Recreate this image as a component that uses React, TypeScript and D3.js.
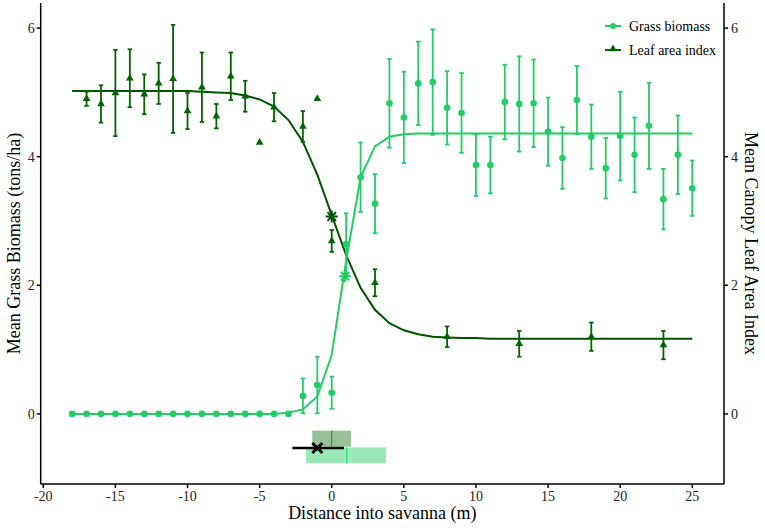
import * as React from 'react';
import * as d3 from 'd3';

// distance into savanna (m) for the fitted curves
const fitDist = [
  -18, -17, -16, -15, -14, -13, -12, -11, -10, -9, -8, -7, -6, -5, -4, -3, -2, -1, 0, 1, 2, 3,
  4, 5, 6, 7, 8, 9, 10, 11, 12, 13, 14, 15, 16, 17, 18, 19, 20, 21, 22, 23, 24, 25
];
const grassFit = [
  0, 0, 0, 0, 0, 0, 0, 0, 0, 0, 0, 0, 0, 0, 0, 0.02, 0.07, 0.27, 0.92, 2.38, 3.68, 4.16,
  4.31, 4.35, 4.36, 4.36, 4.36, 4.36, 4.36, 4.36, 4.36, 4.36, 4.36, 4.36, 4.36, 4.36, 4.36, 4.36, 4.36, 4.36, 4.36, 4.36, 4.36, 4.36
];
const leafFit = [
  5.02, 5.02, 5.02, 5.02, 5.02, 5.02, 5.02, 5.02, 5.02, 5.01, 5.0, 4.99, 4.95, 4.89, 4.78, 4.57, 4.23, 3.72, 3.09, 2.47, 1.96, 1.62,
  1.41, 1.3, 1.24, 1.2, 1.19, 1.18, 1.18, 1.17, 1.17, 1.17, 1.17, 1.17, 1.17, 1.17, 1.17, 1.17, 1.17, 1.17, 1.17, 1.17, 1.17, 1.17
];

// grass biomass observations
const grassDist = fitDist;
const grassMean = [
  0, 0, 0, 0, 0, 0, 0, 0, 0, 0, 0, 0, 0, 0, 0, 0, 0.28, 0.45, 0.33, 2.64, 3.68, 3.27,
  4.83, 4.61, 5.14, 5.16, 4.76, 4.68, 3.87, 3.87, 4.85, 4.82, 4.83, 4.39, 3.98, 4.88, 4.31, 3.82, 4.32, 4.03, 4.48, 3.34, 4.03, 3.51
];
const grassErr = [
  0, 0, 0, 0, 0, 0, 0, 0, 0, 0, 0, 0, 0, 0, 0, 0, 0.27, 0.44, 0.25, 0.48, 0.54, 0.46,
  0.69, 0.71, 0.65, 0.82, 0.57, 0.62, 0.48, 0.44, 0.58, 0.74, 0.68, 0.53, 0.48, 0.53, 0.5, 0.47, 0.69, 0.58, 0.67, 0.47, 0.61, 0.43
];

// leaf area index observations
const leafDist = [-17, -16, -15, -14, -13, -12, -11, -10, -9, -8, -7, -6, -5, -4, -2, -1, 0, 3, 8, 13, 18, 23];
const leafMean = [4.9, 4.82, 4.99, 5.22, 4.97, 5.14, 5.21, 4.71, 5.08, 4.63, 5.25, 4.94, 4.22, 4.77, 4.47, 4.9, 2.69, 2.04, 1.2, 1.09, 1.2, 1.07];
const leafErr = [0.11, 0.29, 0.67, 0.45, 0.31, 0.32, 0.84, 0.28, 0.54, 0.19, 0.37, 0.24, 0, 0.22, 0.24, 0, 0.17, 0.21, 0.16, 0.2, 0.22, 0.22];

// boundary estimates: [estimate, lower, upper]
const leafBoundary = [0, -1.35, 1.34];
const grassBoundary = [1.04, -1.78, 3.77];
const jointBoundary = [-1.0, -2.73, 0.85];
// curve midpoints: [distance, value]
const leafMid = [0, 3.07];
const grassMid = [0.92, 2.14];

const xTicks = [-20, -15, -10, -5, 0, 5, 10, 15, 20, 25];
const yTicks = [0, 2, 4, 6];

const GRASS = '#22cc66';
const LEAF = '#006400';
const FONT = '"Liberation Serif", "Times New Roman", serif';

function Asterisk({ cx, cy, r, color }: { cx: number; cy: number; r: number; color: string }) {
  const d = r * Math.SQRT1_2;
  return (
    <g stroke={color} strokeWidth={2}>
      <line x1={cx - r} y1={cy} x2={cx + r} y2={cy} />
      <line x1={cx} y1={cy - r} x2={cx} y2={cy + r} />
      <line x1={cx - d} y1={cy - d} x2={cx + d} y2={cy + d} />
      <line x1={cx - d} y1={cy + d} x2={cx + d} y2={cy - d} />
    </g>
  );
}

export default function App() {
  const width = 765, height = 528;
  const left = 40.7, right = 724, top = 3, bottom = 484;

  const x = d3.scaleLinear().domain([-20.18, 27.2]).range([left, right]);
  const y = d3.scaleLinear().domain([-1.09, 6.39]).range([bottom, top]);

  const line = d3.line<number>()
    .x((_, i) => x(fitDist[i]))
    .y(d => y(d));

  const tri = d3.symbol().type(d3.symbolTriangle).size(26)();
  const cap = 2.2;

  const bandLeaf = [-0.26, -0.51];
  const bandGrass = [-0.52, -0.77];
  const jointY = -0.53;

  return (
    <svg width={width} height={height} style={{ position: 'absolute', left: 0, top: 0, background: '#fff' }}
      fontFamily={FONT}>
      {/* boundary boxes */}
      <rect x={x(leafBoundary[1])} y={y(bandLeaf[0])} width={x(leafBoundary[2]) - x(leafBoundary[1])}
        height={y(bandLeaf[1]) - y(bandLeaf[0])} fill={LEAF} fillOpacity={0.4} />
      <line x1={x(leafBoundary[0])} x2={x(leafBoundary[0])} y1={y(bandLeaf[0])} y2={y(bandLeaf[1])}
        stroke={LEAF} strokeWidth={1} strokeOpacity={0.7} />
      <rect x={x(grassBoundary[1])} y={y(bandGrass[0])} width={x(grassBoundary[2]) - x(grassBoundary[1])}
        height={y(bandGrass[1]) - y(bandGrass[0])} fill={GRASS} fillOpacity={0.45} />
      <line x1={x(grassBoundary[0])} x2={x(grassBoundary[0])} y1={y(bandGrass[0])} y2={y(bandGrass[1])}
        stroke={GRASS} strokeWidth={1} />
      <line x1={x(jointBoundary[1])} x2={x(jointBoundary[2])} y1={y(jointY)} y2={y(jointY)}
        stroke="#000" strokeWidth={2.5} />
      <g stroke="#000" strokeWidth={2.8}>
        <line x1={x(jointBoundary[0]) - 5} y1={y(jointY) - 5} x2={x(jointBoundary[0]) + 5} y2={y(jointY) + 5} />
        <line x1={x(jointBoundary[0]) - 5} y1={y(jointY) + 5} x2={x(jointBoundary[0]) + 5} y2={y(jointY) - 5} />
      </g>

      {/* fitted curves */}
      <path d={line(leafFit) || ''} fill="none" stroke="#005200" strokeWidth={2} />
      <path d={line(grassFit) || ''} fill="none" stroke={GRASS} strokeWidth={2} />

      {/* grass observations */}
      <g stroke={GRASS} strokeWidth={1.8}>
        {grassDist.map((d, i) => grassErr[i] > 0 ? (
          <g key={i}>
            <line x1={x(d)} x2={x(d)} y1={y(grassMean[i] + grassErr[i])} y2={y(grassMean[i] - grassErr[i])} />
            <line x1={x(d) - cap} x2={x(d) + cap} y1={y(grassMean[i] + grassErr[i])} y2={y(grassMean[i] + grassErr[i])} />
            <line x1={x(d) - cap} x2={x(d) + cap} y1={y(grassMean[i] - grassErr[i])} y2={y(grassMean[i] - grassErr[i])} />
          </g>
        ) : null)}
      </g>
      {grassDist.map((d, i) => (
        <circle key={i} cx={x(d)} cy={y(grassMean[i])} r={3.3} fill={GRASS} />
      ))}

      {/* leaf area observations */}
      <g stroke={LEAF} strokeWidth={1.8}>
        {leafDist.map((d, i) => leafErr[i] > 0 ? (
          <g key={i}>
            <line x1={x(d)} x2={x(d)} y1={y(leafMean[i] + leafErr[i])} y2={y(leafMean[i] - leafErr[i])} />
            <line x1={x(d) - cap} x2={x(d) + cap} y1={y(leafMean[i] + leafErr[i])} y2={y(leafMean[i] + leafErr[i])} />
            <line x1={x(d) - cap} x2={x(d) + cap} y1={y(leafMean[i] - leafErr[i])} y2={y(leafMean[i] - leafErr[i])} />
          </g>
        ) : null)}
      </g>
      {leafDist.map((d, i) => (
        <path key={i} d={tri || ''} transform={`translate(${x(d)},${y(leafMean[i])})`} fill={LEAF} />
      ))}

      {/* curve midpoints */}
      <Asterisk cx={x(leafMid[0])} cy={y(leafMid[1])} r={6} color="#005200" />
      <Asterisk cx={x(grassMid[0])} cy={y(grassMid[1])} r={6} color={GRASS} />

      {/* axes */}
      <g stroke="#000" strokeWidth={1.5} fill="none">
        <line x1={left} x2={left} y1={top} y2={bottom} />
        <line x1={right} x2={right} y1={top} y2={bottom} />
        <line x1={left} x2={right} y1={bottom} y2={bottom} />
        {xTicks.map(t => <line key={t} x1={x(t)} x2={x(t)} y1={bottom} y2={bottom + 4} />)}
        {yTicks.map(t => <line key={'l' + t} x1={left - 4} x2={left} y1={y(t)} y2={y(t)} />)}
        {yTicks.map(t => <line key={'r' + t} x1={right} x2={right + 4} y1={y(t)} y2={y(t)} />)}
      </g>
      <g fontSize={14} fill="#222">
        {xTicks.map(t => (
          <text key={t} x={x(t)} y={bottom + 17} textAnchor="middle">{t}</text>
        ))}
        {yTicks.map(t => (
          <text key={'l' + t} x={left - 6} y={y(t) + 5} textAnchor="end">{t}</text>
        ))}
        {yTicks.map(t => (
          <text key={'r' + t} x={right + 7} y={y(t) + 5}>{t}</text>
        ))}
      </g>
      <g fontSize={18} fill="#000">
        <text x={(left + right) / 2} y={519} textAnchor="middle">Distance into savanna (m)</text>
        <text transform={`translate(20,${(top + bottom) / 2}) rotate(-90)`} textAnchor="middle">
          Mean Grass Biomass (tons/ha)
        </text>
        <text transform={`translate(745,${(top + bottom) / 2}) rotate(90)`} textAnchor="middle">
          Mean Canopy Leaf Area Index
        </text>
      </g>

      {/* legend */}
      <g fontSize={14} fill="#000">
        <line x1={605} x2={621} y1={26} y2={26} stroke={GRASS} strokeWidth={2} />
        <circle cx={613} cy={26} r={3} fill={GRASS} />
        <text x={629} y={31}>Grass biomass</text>
        <line x1={605} x2={621} y1={50} y2={50} stroke={LEAF} strokeWidth={2} />
        <path d={tri || ''} transform="translate(613,49)" fill={LEAF} />
        <text x={629} y={55}>Leaf area index</text>
      </g>
    </svg>
  );
}
